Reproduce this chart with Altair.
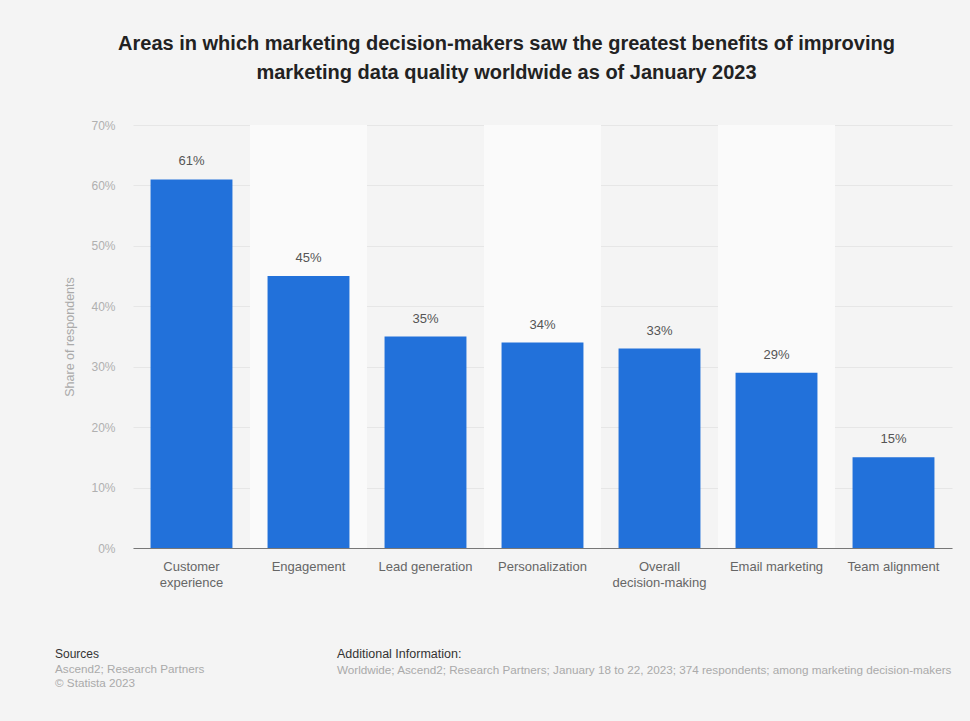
import altair as alt
import pandas as pd

categories = ["Customer experience", "Engagement", "Lead generation", "Personalization",
              "Overall decision-making", "Email marketing", "Team alignment"]
values = [61, 45, 35, 34, 33, 29, 15]
band_categories = ["Engagement", "Personalization", "Email marketing"]
y_ticks = [0, 10, 20, 30, 40, 50, 60, 70]

title_lines = ["Areas in which marketing decision-makers saw the greatest benefits of improving",
               "marketing data quality worldwide as of January 2023"]
sources_lines = ["Ascend2; Research Partners", "© Statista 2023"]
additional_info = ("Worldwide; Ascend2; Research Partners; January 18 to 22, 2023; 374 respondents; "
                   "among marketing decision-makers")

df = pd.DataFrame({"category": categories, "value": values})
df["label"] = [f"{v}%" for v in values]
bands = pd.DataFrame({"category": band_categories})

FONT = "Liberation Sans"
W, H = 819, 423
LEFT, TOP = 133, 125

label_expr = ("datum.label == 'Customer experience' ? ['Customer', 'experience'] : "
              "datum.label == 'Overall decision-making' ? ['Overall', 'decision-making'] : datum.label")

xscale = alt.Scale(domain=categories, paddingInner=0, paddingOuter=0)
yscale = alt.Scale(domain=[0, 70], nice=False)

band_layer = alt.Chart(bands).mark_rect(color="#fafafa").encode(
    x=alt.X("category:N", scale=xscale, sort=categories),
    y=alt.value(0),
    y2=alt.value(H),
)

bars = alt.Chart(df).mark_bar(color="#2271da", width=alt.RelativeBandSize(0.7)).encode(
    x=alt.X("category:N", scale=xscale, sort=categories,
            axis=alt.Axis(title=None, labelExpr=label_expr, labelAngle=0, labelAlign="center",
                          labelBaseline="top", labelColor="#666666",
                          labelFontSize=13, labelFont=FONT, labelPadding=12, ticks=False,
                          domain=True, domainColor="#777777", labelLineHeight=16,
                          labelLimit=200)),
    y=alt.Y("value:Q", scale=yscale,
            axis=alt.Axis(title="Share of respondents", values=y_ticks,
                          labelExpr="datum.value + '%'", labelColor="#b0b0b0", labelFontSize=12,
                          labelFont=FONT, ticks=False, domain=False, gridColor="#e6e6e6",
                          labelPadding=18, titleFont=FONT, titleFontSize=12.5,
                          titleFontWeight="normal", titleColor="#aaaaaa", titlePadding=14)),
)

text = alt.Chart(df).mark_text(dy=-11, baseline="bottom", fontSize=13, font=FONT,
                               color="#555555").encode(
    x=alt.X("category:N", scale=xscale, sort=categories),
    y=alt.Y("value:Q", scale=yscale),
    text="label:N",
)

one = pd.DataFrame({"a": [0]})

def note(txt, x, y, size=11.7, color="#aaaaaa", weight="normal"):
    return alt.Chart(one).mark_text(align="left", baseline="middle", fontSize=size, font=FONT,
                                    color=color, fontWeight=weight).encode(
        x=alt.value(x), y=alt.value(y), text=alt.value(txt))

footer = [
    note("Sources", 55 - LEFT, 654 - TOP, size=12, color="#333333"),
    note(sources_lines[0], 55 - LEFT, 669 - TOP),
    note(sources_lines[1], 55 - LEFT, 683 - TOP),
    note("Additional Information:", 337 - LEFT, 654 - TOP, size=12.5, color="#333333"),
    note(additional_info, 337 - LEFT, 670 - TOP),
]

chart = alt.layer(band_layer, bars, text, *footer).properties(
    width=W, height=H,
    background="#f4f4f4",
    padding={"left": LEFT, "top": TOP, "right": 970 - LEFT - W, "bottom": 721 - TOP - H},
    autosize=alt.AutoSizeParams(type="none"),
    title=alt.TitleParams(text=title_lines, anchor="middle", frame="group", dx=-36,
                          font=FONT, fontSize=20, fontWeight="bold", color="#222222",
                          lineHeight=29, offset=36),
).configure_view(stroke=None)

chart.save("out.html", embed_options={"renderer": "svg", "actions": False})
